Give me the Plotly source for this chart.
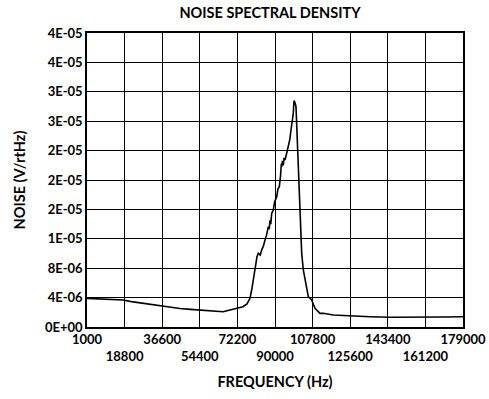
import plotly.graph_objects as go

freq_hz = [1000, 4000, 7150, 10000, 13000, 18040, 22000, 26090, 30000, 33000, 36500,
           40000, 45030, 50000, 54500, 58000, 61600, 65380, 68700, 72010, 74850,
           76740, 78160, 79000, 79730, 81000, 81500, 82090, 83000, 83700, 84500, 85260,
           86000, 86830, 87300, 87600, 88000, 88440, 89200, 89800, 90810, 91400, 92040,
           92600, 93000, 93170, 93500, 93900, 94300, 94730, 95500, 96300, 97000, 97580,
           98200, 98660, 99000, 99500, 99940, 100280, 101030, 101830, 102640, 103400,
           104200, 105000, 105770, 107370, 108940, 111300, 112860, 117600, 125500,
           135000, 144440, 152000, 162000, 170000, 179000]
noise_v = [3.90e-6, 3.86e-6, 3.81e-6, 3.76e-6, 3.72e-6, 3.67e-6, 3.45e-6, 3.27e-6,
           3.12e-6, 3.00e-6, 2.86e-6, 2.74e-6, 2.52e-6, 2.40e-6, 2.31e-6, 2.27e-6,
           2.24e-6, 2.08e-6, 2.31e-6, 2.52e-6, 2.76e-6, 3.13e-6, 3.90e-6, 5.10e-6,
           6.39e-6, 9.12e-6, 9.60e-6, 1.003e-5, 9.80e-6, 1.048e-5, 1.10e-5, 1.184e-5,
           1.25e-5, 1.365e-5, 1.33e-5, 1.45e-5, 1.40e-5, 1.547e-5, 1.592e-5, 1.70e-5,
           1.773e-5, 1.88e-5, 1.909e-5, 2.05e-5, 2.22e-5, 2.181e-5, 2.26e-5, 2.20e-5,
           2.30e-5, 2.272e-5, 2.36e-5, 2.453e-5, 2.55e-5, 2.680e-5, 2.78e-5, 2.907e-5,
           3.079e-5, 3.05e-5, 2.997e-5, 2.771e-5, 2.045e-5, 1.547e-5, 1.003e-5, 7.76e-6,
           6.39e-6, 5.48e-6, 4.12e-6, 3.67e-6, 2.54e-6, 1.86e-6, 1.86e-6, 1.63e-6,
           1.50e-6, 1.39e-6, 1.32e-6, 1.31e-6, 1.32e-6, 1.36e-6, 1.40e-6]

x_ticks = [1000, 18800, 36600, 54400, 72200, 90000, 107800, 125600, 143400, 161200, 179000]
y_ticks = [0, 4e-6, 8e-6, 1.2e-5, 1.6e-5, 2.0e-5, 2.4e-5, 2.8e-5, 3.2e-5, 3.6e-5, 4.0e-5]
y_tick_labels = ["0E+00", "4E-06", "8E-06", "1E-05", "2E-05", "2E-05", "2E-05",
                 "3E-05", "3E-05", "4E-05", "4E-05"]

x_text = []
for i, v in enumerate(x_ticks):
    if i % 2 == 0:
        x_text.append(f"<b>{v}</b>")
    else:
        x_text.append(f"<br><b>{v}</b>")

fig = go.Figure()
fig.add_trace(go.Scatter(x=freq_hz, y=noise_v, mode="lines",
                         line=dict(color="black", width=1.6), showlegend=False,
                         hoverinfo="skip"))

font_family = "Lato"
fs = 13
tfs = 14.5
fig.update_layout(
    width=489, height=399,
    margin=dict(l=87, r=26, t=33, b=72),
    paper_bgcolor="white", plot_bgcolor="white",
    font=dict(family=font_family, color="black", size=fs),
    title=dict(text="<b>NOISE SPECTRAL DENSITY</b>", x=270 / 489, xanchor="center",
               y=1 - 13 / 399, yanchor="middle", font=dict(size=tfs)),
    xaxis=dict(range=[1000, 179000], tickvals=x_ticks, ticktext=x_text,
               tickangle=0, automargin=False,
               showgrid=True, gridcolor="black", gridwidth=1.2,
               showline=True, linecolor="black", linewidth=1.5, mirror=True,
               ticks="", zeroline=False, tickfont=dict(size=fs),
               title=dict(text="<b>FREQUENCY (Hz)</b>", font=dict(size=tfs), standoff=14)),
    yaxis=dict(range=[0, 4e-5], tickvals=y_ticks, automargin=False,
               ticktext=[f"<b>{t}</b>" for t in y_tick_labels],
               showgrid=True, gridcolor="black", gridwidth=1.2,
               showline=True, linecolor="black", linewidth=1.5, mirror=True,
               ticks="", zeroline=False, tickfont=dict(size=fs),
               title=dict(text="<b>NOISE (V/rtHz)</b>", font=dict(size=tfs), standoff=16)),
)

fig.write_html("out.html", config={"displayModeBar": False},
               post_script="document.body.style.margin='0px';")
